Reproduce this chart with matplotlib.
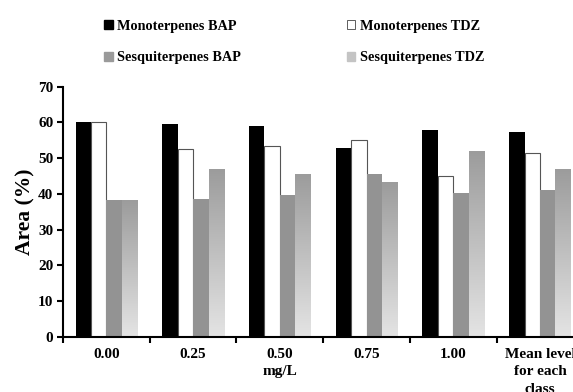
import numpy as np
import matplotlib
matplotlib.use("Agg")
import matplotlib.pyplot as plt
from matplotlib.patches import Patch

plt.rcParams['font.family'] = ['Liberation Serif', 'DejaVu Serif']
plt.rcParams['font.weight'] = 'bold'

# terpene class area (%) per cytokinin concentration
categories = ["0.00", "0.25", "0.50\nmg/L", "0.75", "1.00", "Mean level\nfor each\nclass"]
mono_bap = [60.2, 59.5, 59.0, 52.8, 57.8, 57.2]
mono_tdz = [60.2, 52.5, 53.4, 55.0, 44.9, 51.5]
sesq_bap = [38.2, 38.6, 39.6, 45.5, 40.3, 41.1]
sesq_tdz = [38.2, 46.9, 45.6, 43.3, 52.0, 47.0]

fig = plt.figure(figsize=(5.73, 3.92), dpi=100)
ax = fig.add_axes([0.110, 0.141, 0.908, 0.638])

x = np.arange(len(categories))
w = 0.178
offs = np.array([-1.5, -0.5, 0.5, 1.5]) * w

ax.bar(x + offs[0], mono_bap, w, color='black', zorder=2)
ax.bar(x + offs[1], mono_tdz, w, color='white', edgecolor='#555555', linewidth=0.8, zorder=2)
ax.bar(x + offs[2], sesq_bap, w, color='#939393', zorder=2)

# gradient fill for the TDZ sesquiterpene bars
grad = np.linspace(0.0, 1.0, 256).reshape(-1, 1)
cmap = matplotlib.colors.LinearSegmentedColormap.from_list('g', ['#9c9c9c', '#e4e4e4'])
for xi, h in zip(x + offs[3], sesq_tdz):
    ax.imshow(grad, cmap=cmap, aspect='auto', origin='upper',
              extent=[xi - w / 2, xi + w / 2, 0, h], zorder=2)

ax.set_xlim(-0.5, len(categories) - 0.5)
ax.set_ylim(0, 70)
ax.set_yticks(range(0, 71, 10))
ax.set_ylabel('Area (%)', fontsize=15.5, fontweight='bold', labelpad=2)

ax.set_xticks(x)
ax.set_xticklabels(categories, fontsize=11, fontweight='bold', linespacing=1.45)
ax.tick_params(axis='x', length=0, pad=8)
ax.set_xticks(np.arange(len(categories) + 1) - 0.5, minor=True)
ax.tick_params(axis='x', which='minor', length=4, width=1.5, direction='out')
ax.tick_params(axis='y', length=4, width=1.5, direction='out', labelsize=11, pad=3)
for t in ax.get_yticklabels():
    t.set_fontweight('bold')

for s in ['top', 'right']:
    ax.spines[s].set_visible(False)
for s in ['left', 'bottom']:
    ax.spines[s].set_linewidth(1.5)

handles = [
    Patch(facecolor='black', edgecolor='black', label='Monoterpenes BAP'),
    Patch(facecolor='#9a9a9a', edgecolor='#9a9a9a', label='Sesquiterpenes BAP'),
    Patch(facecolor='white', edgecolor='#444444', linewidth=0.6, label='Monoterpenes TDZ'),
    Patch(facecolor='#c4c4c4', edgecolor='#c4c4c4', label='Sesquiterpenes TDZ'),
]
fig.legend(handles=handles, ncol=2, loc='center left', bbox_to_anchor=(0.172, 0.893),
           frameon=False, prop={'size': 10.3, 'weight': 'bold'},
           handlelength=0.6, handleheight=0.6, handletextpad=0.3,
           labelspacing=1.3, columnspacing=7.4, borderaxespad=0)

fig.savefig('out.png', dpi=100)
